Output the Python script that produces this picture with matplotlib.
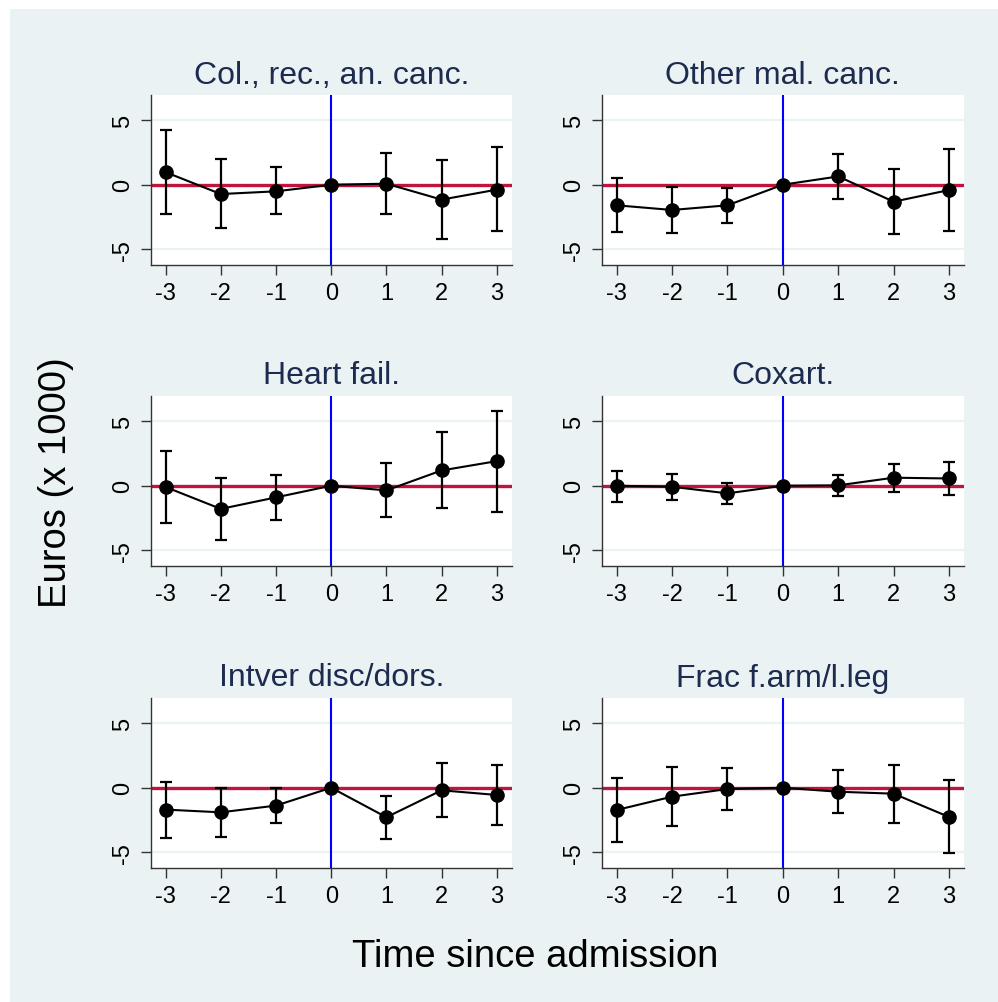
import numpy as np
import matplotlib
matplotlib.use("Agg")
import matplotlib.pyplot as plt

plt.rcParams['font.family'] = ['Liberation Sans', 'DejaVu Sans']
plt.rcParams['axes.unicode_minus'] = False

# data (Euros x 1000)
t = [-3, -2, -1, 0, 1, 2, 3]
titles = ["Col., rec., an. canc.", "Other mal. canc.", "Heart fail.",
          "Coxart.", "Intver disc/dors.", "Frac f.arm/l.leg"]

est = [
    [0.97, -0.72, -0.51, 0, 0.08, -1.15, -0.38],
    [-1.59, -1.95, -1.59, 0, 0.64, -1.31, -0.41],
    [-0.10, -1.79, -0.90, 0, -0.36, 1.18, 1.90],
    [0.00, -0.08, -0.59, 0, 0.03, 0.62, 0.56],
    [-1.69, -1.90, -1.38, 0, -2.28, -0.20, -0.56],
    [-1.72, -0.69, -0.10, 0, -0.31, -0.46, -2.26],
]
ci_lo = [
    [-2.28, -3.33, -2.28, 0, -2.28, -4.18, -3.56],
    [-3.67, -3.69, -2.97, 0, -1.13, -3.82, -3.59],
    [-2.90, -4.20, -2.64, 0, -2.41, -1.74, -2.00],
    [-1.23, -1.10, -1.38, 0, -0.79, -0.49, -0.74],
    [-3.90, -3.77, -2.74, 0, -3.95, -2.28, -2.90],
    [-4.18, -2.97, -1.69, 0, -1.97, -2.74, -5.08],
]
ci_hi = [
    [4.23, 2.00, 1.36, 0, 2.44, 1.92, 2.90],
    [0.51, -0.18, -0.26, 0, 2.38, 1.23, 2.77],
    [2.69, 0.62, 0.80, 0, 1.74, 4.13, 5.74],
    [1.15, 0.87, 0.18, 0, 0.85, 1.67, 1.85],
    [0.46, 0.00, 0.00, 0, -0.64, 1.90, 1.74],
    [0.72, 1.59, 1.51, 0, 1.38, 1.79, 0.56],
]

W, H = 998, 1003
bg = '#eaf2f3'
navy = '#1c2b4f'

fig = plt.figure(figsize=(W / 100, H / 100), dpi=100)
fig.patch.set_facecolor('white')
fig.patches.append(plt.Rectangle((10 / W, 0), 1, 1 - 10 / H, transform=fig.transFigure,
                                 facecolor=bg, edgecolor='none', zorder=-10))

lefts = [150.7, 601.7]
widths = [361, 362.3]
tops = [96, 397, 699]
ph = 170

for k in range(6):
    r, c = divmod(k, 2)
    ax = fig.add_axes([lefts[c] / W, 1 - (tops[r] + ph) / H, widths[c] / W, ph / H])
    ax.set_facecolor('white')
    ax.set_xlim(-3.27, 3.27)
    ax.set_ylim(-6.2, 6.93)
    for s in ['top', 'right']:
        ax.spines[s].set_visible(False)
    for s in ['left', 'bottom']:
        ax.spines[s].set_color('#333333')
        ax.spines[s].set_linewidth(1.0)
    ax.set_yticks([-5, 0, 5])
    ax.set_xticks(t)
    ax.set_xticklabels([str(v) for v in t])
    ax.set_yticklabels(['-5', '0', '5'], rotation=90, va='center')
    ax.tick_params(axis='both', labelsize=17, length=7, width=1.0, color='#333333', pad=5)
    for yv in [-5, 5]:
        ax.axhline(yv, color='#eaf2f3', lw=1.6, zorder=0)
    ax.axhline(0, color='#c0143c', lw=2.4, zorder=1)
    ax.axvline(0, color='#0000ff', lw=1.5, zorder=2)
    y = np.array(est[k])
    lo = y - np.array(ci_lo[k])
    hi = np.array(ci_hi[k]) - y
    ax.errorbar(t, y, yerr=[lo, hi], fmt='-o', color='black', lw=1.5, elinewidth=1.6,
                capsize=4, capthick=1.6, markersize=9.5, zorder=3)
    ax.set_title(titles[k], fontsize=23, color=navy, pad=9)

fig.text(56 / W, 1 - 483 / H, "Euros (x 1000)", rotation=90, ha='center', va='center',
         fontsize=27.5, color='black')
fig.text(535 / W, 1 - 957 / H, "Time since admission", ha='center', va='center',
         fontsize=27.5, color='black')

fig.savefig("out.png", dpi=100, facecolor=fig.get_facecolor())
